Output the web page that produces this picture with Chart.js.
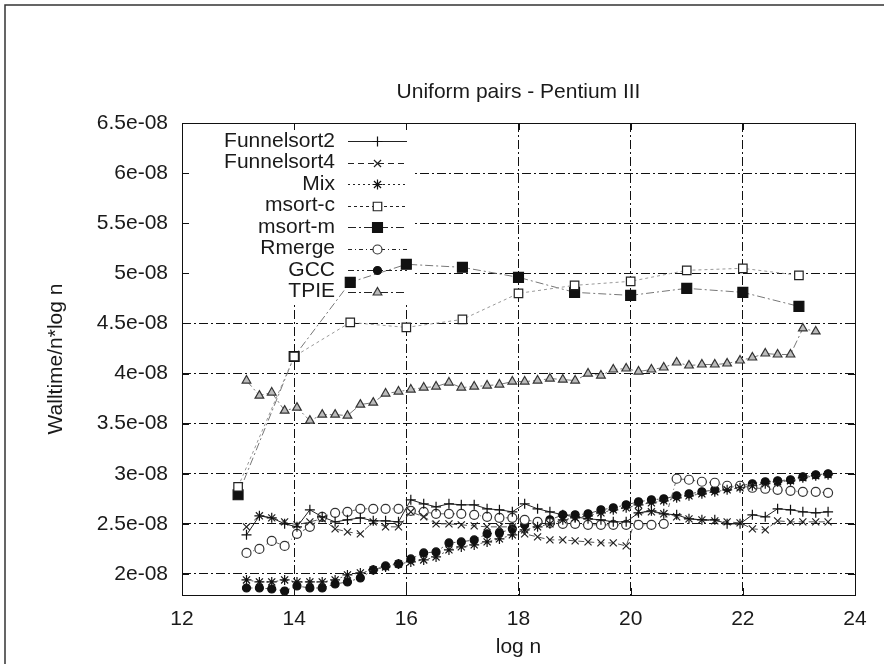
<!DOCTYPE html>
<html>
<head>
<meta charset="utf-8">
<script src="https://cdn.jsdelivr.net/npm/chart.js"></script>
<style>
  html, body { margin: 0; padding: 0; background: #fff; }
  canvas { display: block; }
</style>
</head>
<body>
<canvas id="sortChart" width="884" height="664"></canvas>
<script>
// x positions (log n) of the measured runs
const logN = [13.15, 13.38, 13.60, 13.83, 14.05, 14.28, 14.50, 14.73, 14.95, 15.18,
              15.41, 15.63, 15.86, 16.08, 16.31, 16.53, 16.76, 16.98, 17.21, 17.44,
              17.66, 17.89, 18.11, 18.34, 18.56, 18.79, 19.01, 19.24, 19.47, 19.69,
              19.92, 20.14, 20.37, 20.59, 20.82, 21.04, 21.27, 21.50, 21.72, 21.95,
              22.17, 22.40, 22.62, 22.85, 23.07, 23.30, 23.52];
const msortLogN = [13, 14, 15, 16, 17, 18, 19, 20, 21, 22, 23];

// walltime / (n log n), in units of 1e-08
const funnelsort2 = [2.39, 2.58, 2.56, 2.50, 2.47, 2.64, 2.57, 2.52, 2.54, 2.56,
                     2.53, 2.53, 2.52, 2.74, 2.70, 2.67, 2.70, 2.69, 2.69, 2.65,
                     2.64, 2.62, 2.70, 2.65, 2.62, 2.59, 2.57, 2.55, 2.54, 2.52,
                     2.52, 2.61, 2.63, 2.60, 2.59, 2.55, 2.54, 2.54, 2.50, 2.50,
                     2.59, 2.57, 2.65, 2.64, 2.62, 2.61, 2.62];
const funnelsort4 = [2.47, 2.58, 2.56, 2.52, 2.49, 2.52, 2.55, 2.45, 2.42, 2.40,
                     2.52, 2.47, 2.47, 2.62, 2.57, 2.50, 2.50, 2.49, 2.48, 2.47,
                     2.47, 2.47, 2.40, 2.37, 2.34, 2.34, 2.33, 2.32, 2.31, 2.31,
                     2.28, 2.62, 2.62, 2.60, 2.57, 2.55, 2.54, 2.53, 2.52, 2.51,
                     2.45, 2.44, 2.53, 2.52, 2.52, 2.52, 2.52];
const mix = [1.94, 1.92, 1.92, 1.94, 1.92, 1.92, 1.92, 1.94, 1.99, 2.01,
             2.04, 2.07, 2.10, 2.12, 2.14, 2.17, 2.24, 2.27, 2.29, 2.32,
             2.35, 2.39, 2.44, 2.47, 2.50, 2.54, 2.56, 2.58, 2.61, 2.64,
             2.66, 2.69, 2.71, 2.73, 2.76, 2.78, 2.80, 2.82, 2.84, 2.86,
             2.88, 2.90, 2.92, 2.93, 2.96, 2.98, 2.99];
const msortC = [2.87, 4.17, 4.51, 4.46, 4.54, 4.80, 4.88, 4.92, 5.03, 5.05, 4.98];
const msortM = [2.79, 4.17, 4.91, 5.09, 5.06, 4.96, 4.81, 4.78, 4.85, 4.81, 4.67];
const rmerge = [2.21, 2.25, 2.33, 2.28, 2.40, 2.47, 2.57, 2.61, 2.62, 2.65,
                2.65, 2.65, 2.65, 2.63, 2.62, 2.60, 2.60, 2.60, 2.59, 2.57,
                2.56, 2.56, 2.54, 2.52, 2.51, 2.50, 2.50, 2.49, 2.49, 2.49,
                2.49, 2.49, 2.49, 2.50, 2.95, 2.94, 2.92, 2.91, 2.88, 2.88,
                2.86, 2.85, 2.84, 2.83, 2.82, 2.82, 2.81];
const gcc = [1.86, 1.86, 1.85, 1.83, 1.88, 1.86, 1.86, 1.90, 1.92, 1.96,
             2.04, 2.08, 2.10, 2.15, 2.21, 2.22, 2.31, 2.32, 2.34, 2.40,
             2.41, 2.45, 2.49, 2.52, 2.54, 2.59, 2.59, 2.60, 2.64, 2.66,
             2.69, 2.72, 2.74, 2.75, 2.78, 2.80, 2.82, 2.84, 2.86, 2.88,
             2.90, 2.92, 2.93, 2.94, 2.97, 2.99, 3.00];
const tpie = [3.93, 3.78, 3.81, 3.63, 3.66, 3.53, 3.59, 3.59, 3.58, 3.69,
              3.71, 3.80, 3.82, 3.84, 3.86, 3.87, 3.91, 3.86, 3.87, 3.88,
              3.89, 3.92, 3.92, 3.93, 3.95, 3.94, 3.93, 4.00, 3.98, 4.04,
              4.05, 4.02, 4.04, 4.06, 4.11, 4.08, 4.09, 4.09, 4.10, 4.13,
              4.16, 4.20, 4.19, 4.19, 4.45, 4.42];

const xTicks = [12, 14, 16, 18, 20, 22, 24];
const yTicks = [2, 2.5, 3, 3.5, 4, 4.5, 5, 5.5, 6, 6.5];

const chartTitle = 'Uniform pairs - Pentium III';
const FONT = "'Liberation Sans', Arial, sans-serif";
const TEXT = '#1a1a1a';
const FONT_SIZE = 21;

function pts(xs, ys) {
    return ys.map((y, i) => ({ x: xs[i], y: y }));
}

function series(label, xs, ys, s) {
    return {
        label: label,
        data: pts(xs, ys),
        borderColor: s.line,
        borderWidth: 1,
        borderDash: s.dash,
        pointStyle: s.style,
        pointRadius: s.radius,
        pointBorderColor: s.mark,
        pointBackgroundColor: s.fill,
        pointBorderWidth: 1.2,
        tension: 0,
        fill: false
    };
}

const datasets = [
    series('Funnelsort2', logN, funnelsort2, { line: '#222', dash: [], style: 'cross', radius: 5, mark: '#111', fill: '#111' }),
    series('Funnelsort4', logN, funnelsort4, { line: '#555', dash: [6, 4], style: 'crossRot', radius: 5, mark: '#222', fill: '#222' }),
    series('Mix', logN, mix, { line: '#555', dash: [2, 3], style: 'star', radius: 5, mark: '#111', fill: '#111' }),
    series('msort-c', msortLogN, msortC, { line: '#999', dash: [3, 3], style: 'rect', radius: 6, mark: '#222', fill: '#fff' }),
    series('msort-m', msortLogN, msortM, { line: '#777', dash: [8, 3, 2, 3], style: 'rect', radius: 7, mark: '#111', fill: '#111' }),
    series('Rmerge', logN, rmerge, { line: '#666', dash: [4, 3, 1, 3], style: 'circle', radius: 4.5, mark: '#333', fill: '#fff' }),
    series('GCC', logN, gcc, { line: '#555', dash: [6, 3, 2, 3, 2, 3], style: 'circle', radius: 4, mark: '#111', fill: '#111' }),
    series('TPIE', logN.slice(0, tpie.length), tpie, { line: '#777', dash: [8, 3, 2, 3], style: 'triangle', radius: 5, mark: '#333', fill: '#bbb' })
];

// gnuplot style key, title, frame and inward ticks
const keyBox = { right: 412, bottom: 302, textRight: 335, sampleLeft: 348, sampleRight: 407, firstRow: 141, rowStep: 21.5 };

const gnuplotLook = {
    id: 'gnuplotLook',
    beforeDatasetsDraw(chart) {
        const { ctx, chartArea: a } = chart;
        ctx.save();
        ctx.fillStyle = '#fff';
        ctx.fillRect(a.left + 1, a.top + 1, keyBox.right - a.left - 1, keyBox.bottom - a.top - 1);
        ctx.restore();
    },
    afterDatasetsDraw(chart) {
        const { ctx } = chart;
        ctx.save();
        ctx.font = FONT_SIZE + 'px ' + FONT;
        ctx.textAlign = 'right';
        ctx.textBaseline = 'middle';
        chart.data.datasets.forEach((ds, k) => {
            const y = keyBox.firstRow + k * keyBox.rowStep;
            ctx.fillStyle = TEXT;
            ctx.fillText(ds.label, keyBox.textRight, y);
            ctx.strokeStyle = '#222';
            ctx.lineWidth = 1;
            ctx.setLineDash(ds.borderDash);
            ctx.beginPath();
            ctx.moveTo(keyBox.sampleLeft, Math.round(y) + 0.5);
            ctx.lineTo(keyBox.sampleRight, Math.round(y) + 0.5);
            ctx.stroke();
            ctx.setLineDash([]);
            if (Chart.helpers && Chart.helpers.drawPoint) {
                ctx.fillStyle = ds.pointBackgroundColor;
                ctx.strokeStyle = ds.pointBorderColor;
                ctx.lineWidth = ds.pointBorderWidth;
                Chart.helpers.drawPoint(ctx, {
                    pointStyle: ds.pointStyle, radius: ds.pointRadius,
                    borderWidth: ds.pointBorderWidth, rotation: 0
                }, (keyBox.sampleLeft + keyBox.sampleRight) / 2, Math.round(y) + 0.5);
            }
        });
        ctx.restore();
    },
    afterDraw(chart) {
        const { ctx, chartArea: a, scales } = chart;
        ctx.save();
        // title centred over the plot box
        ctx.fillStyle = TEXT;
        ctx.font = FONT_SIZE + 'px ' + FONT;
        ctx.textAlign = 'center';
        ctx.textBaseline = 'middle';
        ctx.fillText(chartTitle, (a.left + a.right) / 2, 92);

        ctx.strokeStyle = '#111';
        ctx.lineWidth = 1;
        ctx.strokeRect(Math.round(a.left) + 0.5, Math.round(a.top) + 0.5,
                       Math.round(a.right - a.left), Math.round(a.bottom - a.top));
        ctx.beginPath();
        xTicks.forEach(v => {
            const x = Math.round(scales.x.getPixelForValue(v)) + 0.5;
            ctx.moveTo(x, a.bottom); ctx.lineTo(x, a.bottom - 7);
            ctx.moveTo(x, a.top); ctx.lineTo(x, a.top + 7);
        });
        yTicks.forEach(v => {
            const y = Math.round(scales.y.getPixelForValue(v)) + 0.5;
            ctx.moveTo(a.left, y); ctx.lineTo(a.left + 7, y);
            ctx.moveTo(a.right, y); ctx.lineTo(a.right - 7, y);
        });
        ctx.stroke();
        // page frame
        ctx.strokeStyle = '#333';
        ctx.lineWidth = 1.5;
        ctx.beginPath();
        ctx.moveTo(5, chart.height); ctx.lineTo(5, 5); ctx.lineTo(chart.width, 5);
        ctx.stroke();
        ctx.restore();
    }
};

function gridColor(edges) {
    return c => (c.tick && edges.includes(c.tick.value)) ? 'rgba(0,0,0,0)' : '#111';
}

new Chart(document.getElementById('sortChart').getContext('2d'), {
    type: 'line',
    data: { datasets: datasets },
    options: {
        responsive: false,
        animation: false,
        layout: { padding: { left: 0, right: 29, top: 123, bottom: 0 } },
        plugins: {
            legend: { display: false },
            tooltip: { enabled: false },
            title: { display: false }
        },
        scales: {
            x: {
                type: 'linear',
                min: 12,
                max: 24,
                afterBuildTicks: s => { s.ticks = xTicks.map(v => ({ value: v })); },
                afterFit: s => { s.height = 69; },
                grid: { color: gridColor([12, 24]), lineWidth: 1, drawTicks: false },
                border: { display: false, dash: [9, 3, 2, 3] },
                ticks: { color: TEXT, font: { family: FONT, size: FONT_SIZE }, padding: 12, maxRotation: 0 },
                title: { display: true, text: 'log n', color: TEXT, font: { family: FONT, size: FONT_SIZE }, padding: { top: 0, bottom: 4 } }
            },
            y: {
                min: 1.79,
                max: 6.5,
                afterBuildTicks: s => { s.ticks = yTicks.map(v => ({ value: v })); },
                afterFit: s => { s.width = 182; },
                grid: { color: gridColor([6.5]), lineWidth: 1, drawTicks: false },
                border: { display: false, dash: [9, 3, 2, 3] },
                ticks: { color: TEXT, font: { family: FONT, size: FONT_SIZE }, padding: 14, callback: v => v + 'e-08' },
                title: { display: true, text: 'Walltime/n*log n', color: TEXT, font: { family: FONT, size: FONT_SIZE }, padding: { top: 44, bottom: 0 } }
            }
        }
    },
    plugins: [gnuplotLook]
});
</script>
</body>
</html>
